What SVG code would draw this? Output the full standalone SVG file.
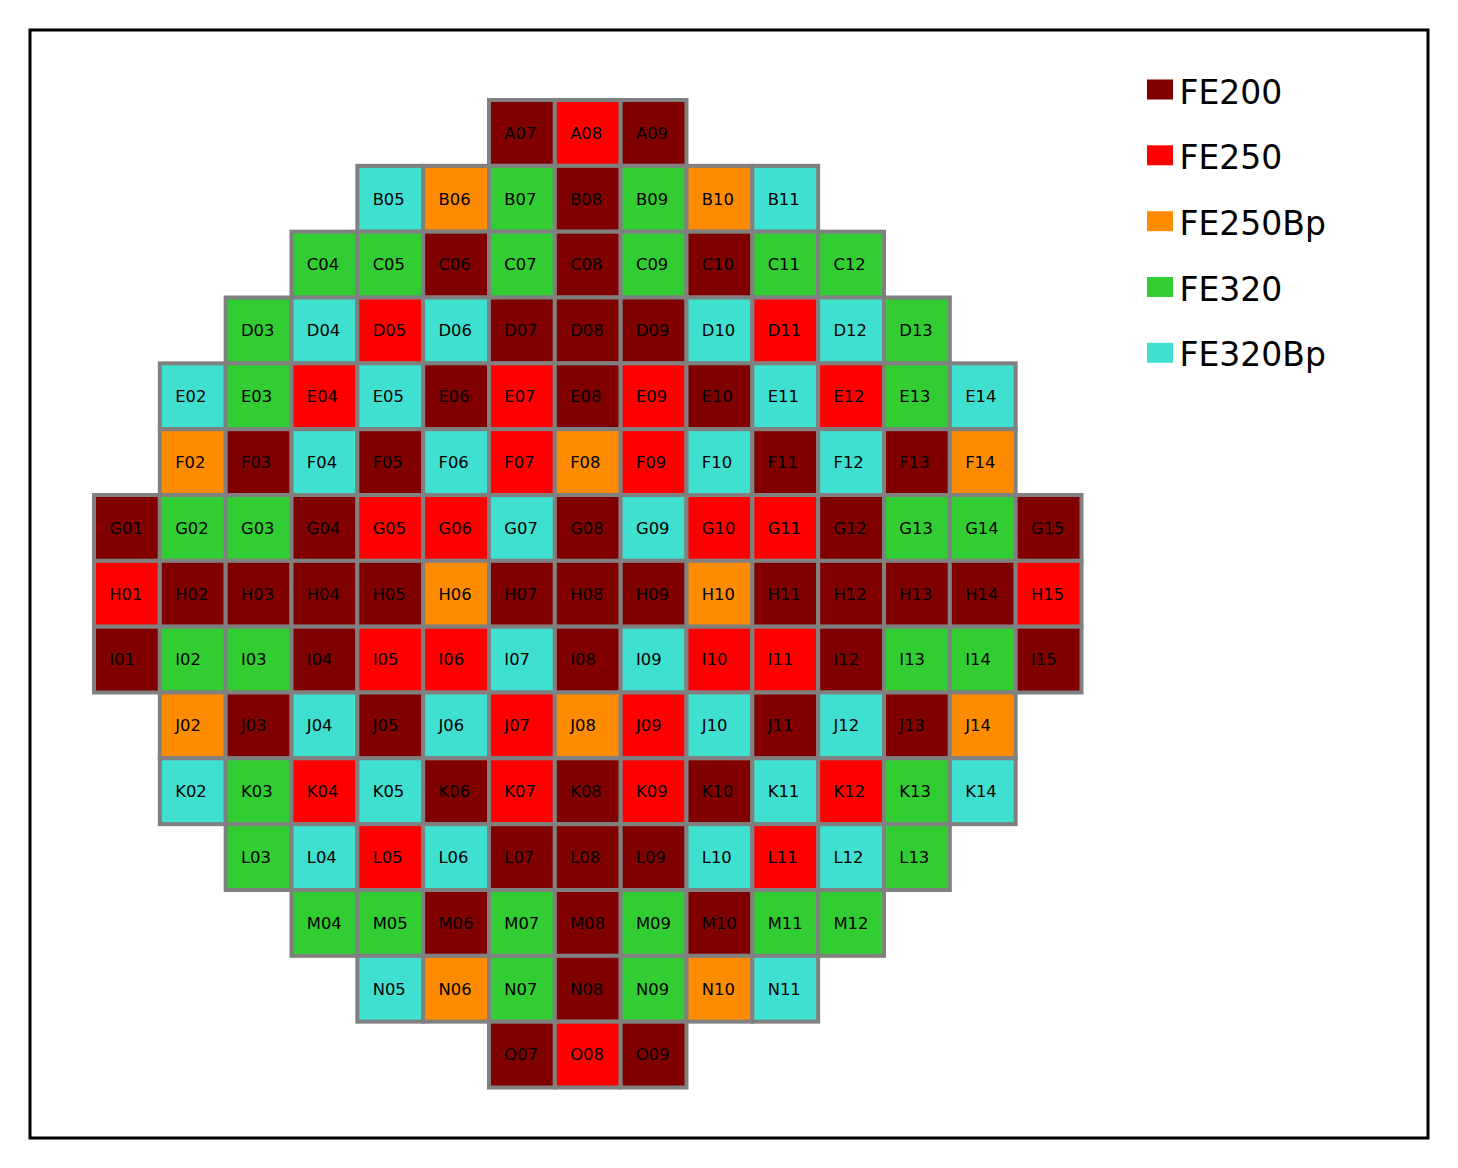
<svg xmlns="http://www.w3.org/2000/svg" width="1458" height="1168" viewBox="0 0 1458 1168">
<style>
.c rect{stroke:#808080;stroke-width:4}
.c text{font-family:"DejaVu Sans",sans-serif;font-size:16.4px;fill:#000}
.d{fill:#800000}.r{fill:#ff0000}.o{fill:#ff8c00}.g{fill:#32cd32}.t{fill:#40e0d0}
.lg text{font-family:"DejaVu Sans",sans-serif;font-size:33px;fill:#000}
</style>
<rect x="0" y="0" width="1458" height="1168" fill="#fff"/>
<rect x="30" y="30" width="1398" height="1108" fill="none" stroke="#000" stroke-width="3"/>
<g id="connectors"/>
<g class="c">
<g id="A07" transform="translate(489,100)"><rect class="d" width="65.83" height="65.83"/><text x="15.3" y="38.7">A07</text></g>
<g id="A08" transform="translate(554.83,100)"><rect class="r" width="65.83" height="65.83"/><text x="15.3" y="38.7">A08</text></g>
<g id="A09" transform="translate(620.67,100)"><rect class="d" width="65.83" height="65.83"/><text x="15.3" y="38.7">A09</text></g>

<g id="B05" transform="translate(357.33,165.83)"><rect class="t" width="65.83" height="65.83"/><text x="15.3" y="38.7">B05</text></g>
<g id="B06" transform="translate(423.17,165.83)"><rect class="o" width="65.83" height="65.83"/><text x="15.3" y="38.7">B06</text></g>
<g id="B07" transform="translate(489,165.83)"><rect class="g" width="65.83" height="65.83"/><text x="15.3" y="38.7">B07</text></g>
<g id="B08" transform="translate(554.83,165.83)"><rect class="d" width="65.83" height="65.83"/><text x="15.3" y="38.7">B08</text></g>
<g id="B09" transform="translate(620.67,165.83)"><rect class="g" width="65.83" height="65.83"/><text x="15.3" y="38.7">B09</text></g>
<g id="B10" transform="translate(686.5,165.83)"><rect class="o" width="65.83" height="65.83"/><text x="15.3" y="38.7">B10</text></g>
<g id="B11" transform="translate(752.33,165.83)"><rect class="t" width="65.83" height="65.83"/><text x="15.3" y="38.7">B11</text></g>

<g id="C04" transform="translate(291.5,231.67)"><rect class="g" width="65.83" height="65.83"/><text x="15.3" y="38.7">C04</text></g>
<g id="C05" transform="translate(357.33,231.67)"><rect class="g" width="65.83" height="65.83"/><text x="15.3" y="38.7">C05</text></g>
<g id="C06" transform="translate(423.17,231.67)"><rect class="d" width="65.83" height="65.83"/><text x="15.3" y="38.7">C06</text></g>
<g id="C07" transform="translate(489,231.67)"><rect class="g" width="65.83" height="65.83"/><text x="15.3" y="38.7">C07</text></g>
<g id="C08" transform="translate(554.83,231.67)"><rect class="d" width="65.83" height="65.83"/><text x="15.3" y="38.7">C08</text></g>
<g id="C09" transform="translate(620.67,231.67)"><rect class="g" width="65.83" height="65.83"/><text x="15.3" y="38.7">C09</text></g>
<g id="C10" transform="translate(686.5,231.67)"><rect class="d" width="65.83" height="65.83"/><text x="15.3" y="38.7">C10</text></g>
<g id="C11" transform="translate(752.33,231.67)"><rect class="g" width="65.83" height="65.83"/><text x="15.3" y="38.7">C11</text></g>
<g id="C12" transform="translate(818.17,231.67)"><rect class="g" width="65.83" height="65.83"/><text x="15.3" y="38.7">C12</text></g>

<g id="D03" transform="translate(225.67,297.5)"><rect class="g" width="65.83" height="65.83"/><text x="15.3" y="38.7">D03</text></g>
<g id="D04" transform="translate(291.5,297.5)"><rect class="t" width="65.83" height="65.83"/><text x="15.3" y="38.7">D04</text></g>
<g id="D05" transform="translate(357.33,297.5)"><rect class="r" width="65.83" height="65.83"/><text x="15.3" y="38.7">D05</text></g>
<g id="D06" transform="translate(423.17,297.5)"><rect class="t" width="65.83" height="65.83"/><text x="15.3" y="38.7">D06</text></g>
<g id="D07" transform="translate(489,297.5)"><rect class="d" width="65.83" height="65.83"/><text x="15.3" y="38.7">D07</text></g>
<g id="D08" transform="translate(554.83,297.5)"><rect class="d" width="65.83" height="65.83"/><text x="15.3" y="38.7">D08</text></g>
<g id="D09" transform="translate(620.67,297.5)"><rect class="d" width="65.83" height="65.83"/><text x="15.3" y="38.7">D09</text></g>
<g id="D10" transform="translate(686.5,297.5)"><rect class="t" width="65.83" height="65.83"/><text x="15.3" y="38.7">D10</text></g>
<g id="D11" transform="translate(752.33,297.5)"><rect class="r" width="65.83" height="65.83"/><text x="15.3" y="38.7">D11</text></g>
<g id="D12" transform="translate(818.17,297.5)"><rect class="t" width="65.83" height="65.83"/><text x="15.3" y="38.7">D12</text></g>
<g id="D13" transform="translate(884,297.5)"><rect class="g" width="65.83" height="65.83"/><text x="15.3" y="38.7">D13</text></g>

<g id="E02" transform="translate(159.83,363.33)"><rect class="t" width="65.83" height="65.83"/><text x="15.3" y="38.7">E02</text></g>
<g id="E03" transform="translate(225.67,363.33)"><rect class="g" width="65.83" height="65.83"/><text x="15.3" y="38.7">E03</text></g>
<g id="E04" transform="translate(291.5,363.33)"><rect class="r" width="65.83" height="65.83"/><text x="15.3" y="38.7">E04</text></g>
<g id="E05" transform="translate(357.33,363.33)"><rect class="t" width="65.83" height="65.83"/><text x="15.3" y="38.7">E05</text></g>
<g id="E06" transform="translate(423.17,363.33)"><rect class="d" width="65.83" height="65.83"/><text x="15.3" y="38.7">E06</text></g>
<g id="E07" transform="translate(489,363.33)"><rect class="r" width="65.83" height="65.83"/><text x="15.3" y="38.7">E07</text></g>
<g id="E08" transform="translate(554.83,363.33)"><rect class="d" width="65.83" height="65.83"/><text x="15.3" y="38.7">E08</text></g>
<g id="E09" transform="translate(620.67,363.33)"><rect class="r" width="65.83" height="65.83"/><text x="15.3" y="38.7">E09</text></g>
<g id="E10" transform="translate(686.5,363.33)"><rect class="d" width="65.83" height="65.83"/><text x="15.3" y="38.7">E10</text></g>
<g id="E11" transform="translate(752.33,363.33)"><rect class="t" width="65.83" height="65.83"/><text x="15.3" y="38.7">E11</text></g>
<g id="E12" transform="translate(818.17,363.33)"><rect class="r" width="65.83" height="65.83"/><text x="15.3" y="38.7">E12</text></g>
<g id="E13" transform="translate(884,363.33)"><rect class="g" width="65.83" height="65.83"/><text x="15.3" y="38.7">E13</text></g>
<g id="E14" transform="translate(949.83,363.33)"><rect class="t" width="65.83" height="65.83"/><text x="15.3" y="38.7">E14</text></g>

<g id="F02" transform="translate(159.83,429.17)"><rect class="o" width="65.83" height="65.83"/><text x="15.3" y="38.7">F02</text></g>
<g id="F03" transform="translate(225.67,429.17)"><rect class="d" width="65.83" height="65.83"/><text x="15.3" y="38.7">F03</text></g>
<g id="F04" transform="translate(291.5,429.17)"><rect class="t" width="65.83" height="65.83"/><text x="15.3" y="38.7">F04</text></g>
<g id="F05" transform="translate(357.33,429.17)"><rect class="d" width="65.83" height="65.83"/><text x="15.3" y="38.7">F05</text></g>
<g id="F06" transform="translate(423.17,429.17)"><rect class="t" width="65.83" height="65.83"/><text x="15.3" y="38.7">F06</text></g>
<g id="F07" transform="translate(489,429.17)"><rect class="r" width="65.83" height="65.83"/><text x="15.3" y="38.7">F07</text></g>
<g id="F08" transform="translate(554.83,429.17)"><rect class="o" width="65.83" height="65.83"/><text x="15.3" y="38.7">F08</text></g>
<g id="F09" transform="translate(620.67,429.17)"><rect class="r" width="65.83" height="65.83"/><text x="15.3" y="38.7">F09</text></g>
<g id="F10" transform="translate(686.5,429.17)"><rect class="t" width="65.83" height="65.83"/><text x="15.3" y="38.7">F10</text></g>
<g id="F11" transform="translate(752.33,429.17)"><rect class="d" width="65.83" height="65.83"/><text x="15.3" y="38.7">F11</text></g>
<g id="F12" transform="translate(818.17,429.17)"><rect class="t" width="65.83" height="65.83"/><text x="15.3" y="38.7">F12</text></g>
<g id="F13" transform="translate(884,429.17)"><rect class="d" width="65.83" height="65.83"/><text x="15.3" y="38.7">F13</text></g>
<g id="F14" transform="translate(949.83,429.17)"><rect class="o" width="65.83" height="65.83"/><text x="15.3" y="38.7">F14</text></g>

<g id="G01" transform="translate(94,495)"><rect class="d" width="65.83" height="65.83"/><text x="15.3" y="38.7">G01</text></g>
<g id="G02" transform="translate(159.83,495)"><rect class="g" width="65.83" height="65.83"/><text x="15.3" y="38.7">G02</text></g>
<g id="G03" transform="translate(225.67,495)"><rect class="g" width="65.83" height="65.83"/><text x="15.3" y="38.7">G03</text></g>
<g id="G04" transform="translate(291.5,495)"><rect class="d" width="65.83" height="65.83"/><text x="15.3" y="38.7">G04</text></g>
<g id="G05" transform="translate(357.33,495)"><rect class="r" width="65.83" height="65.83"/><text x="15.3" y="38.7">G05</text></g>
<g id="G06" transform="translate(423.17,495)"><rect class="r" width="65.83" height="65.83"/><text x="15.3" y="38.7">G06</text></g>
<g id="G07" transform="translate(489,495)"><rect class="t" width="65.83" height="65.83"/><text x="15.3" y="38.7">G07</text></g>
<g id="G08" transform="translate(554.83,495)"><rect class="d" width="65.83" height="65.83"/><text x="15.3" y="38.7">G08</text></g>
<g id="G09" transform="translate(620.67,495)"><rect class="t" width="65.83" height="65.83"/><text x="15.3" y="38.7">G09</text></g>
<g id="G10" transform="translate(686.5,495)"><rect class="r" width="65.83" height="65.83"/><text x="15.3" y="38.7">G10</text></g>
<g id="G11" transform="translate(752.33,495)"><rect class="r" width="65.83" height="65.83"/><text x="15.3" y="38.7">G11</text></g>
<g id="G12" transform="translate(818.17,495)"><rect class="d" width="65.83" height="65.83"/><text x="15.3" y="38.7">G12</text></g>
<g id="G13" transform="translate(884,495)"><rect class="g" width="65.83" height="65.83"/><text x="15.3" y="38.7">G13</text></g>
<g id="G14" transform="translate(949.83,495)"><rect class="g" width="65.83" height="65.83"/><text x="15.3" y="38.7">G14</text></g>
<g id="G15" transform="translate(1015.67,495)"><rect class="d" width="65.83" height="65.83"/><text x="15.3" y="38.7">G15</text></g>

<g id="H01" transform="translate(94,560.83)"><rect class="r" width="65.83" height="65.83"/><text x="15.3" y="38.7">H01</text></g>
<g id="H02" transform="translate(159.83,560.83)"><rect class="d" width="65.83" height="65.83"/><text x="15.3" y="38.7">H02</text></g>
<g id="H03" transform="translate(225.67,560.83)"><rect class="d" width="65.83" height="65.83"/><text x="15.3" y="38.7">H03</text></g>
<g id="H04" transform="translate(291.5,560.83)"><rect class="d" width="65.83" height="65.83"/><text x="15.3" y="38.7">H04</text></g>
<g id="H05" transform="translate(357.33,560.83)"><rect class="d" width="65.83" height="65.83"/><text x="15.3" y="38.7">H05</text></g>
<g id="H06" transform="translate(423.17,560.83)"><rect class="o" width="65.83" height="65.83"/><text x="15.3" y="38.7">H06</text></g>
<g id="H07" transform="translate(489,560.83)"><rect class="d" width="65.83" height="65.83"/><text x="15.3" y="38.7">H07</text></g>
<g id="H08" transform="translate(554.83,560.83)"><rect class="d" width="65.83" height="65.83"/><text x="15.3" y="38.7">H08</text></g>
<g id="H09" transform="translate(620.67,560.83)"><rect class="d" width="65.83" height="65.83"/><text x="15.3" y="38.7">H09</text></g>
<g id="H10" transform="translate(686.5,560.83)"><rect class="o" width="65.83" height="65.83"/><text x="15.3" y="38.7">H10</text></g>
<g id="H11" transform="translate(752.33,560.83)"><rect class="d" width="65.83" height="65.83"/><text x="15.3" y="38.7">H11</text></g>
<g id="H12" transform="translate(818.17,560.83)"><rect class="d" width="65.83" height="65.83"/><text x="15.3" y="38.7">H12</text></g>
<g id="H13" transform="translate(884,560.83)"><rect class="d" width="65.83" height="65.83"/><text x="15.3" y="38.7">H13</text></g>
<g id="H14" transform="translate(949.83,560.83)"><rect class="d" width="65.83" height="65.83"/><text x="15.3" y="38.7">H14</text></g>
<g id="H15" transform="translate(1015.67,560.83)"><rect class="r" width="65.83" height="65.83"/><text x="15.3" y="38.7">H15</text></g>

<g id="I01" transform="translate(94,626.67)"><rect class="d" width="65.83" height="65.83"/><text x="15.3" y="38.7">I01</text></g>
<g id="I02" transform="translate(159.83,626.67)"><rect class="g" width="65.83" height="65.83"/><text x="15.3" y="38.7">I02</text></g>
<g id="I03" transform="translate(225.67,626.67)"><rect class="g" width="65.83" height="65.83"/><text x="15.3" y="38.7">I03</text></g>
<g id="I04" transform="translate(291.5,626.67)"><rect class="d" width="65.83" height="65.83"/><text x="15.3" y="38.7">I04</text></g>
<g id="I05" transform="translate(357.33,626.67)"><rect class="r" width="65.83" height="65.83"/><text x="15.3" y="38.7">I05</text></g>
<g id="I06" transform="translate(423.17,626.67)"><rect class="r" width="65.83" height="65.83"/><text x="15.3" y="38.7">I06</text></g>
<g id="I07" transform="translate(489,626.67)"><rect class="t" width="65.83" height="65.83"/><text x="15.3" y="38.7">I07</text></g>
<g id="I08" transform="translate(554.83,626.67)"><rect class="d" width="65.83" height="65.83"/><text x="15.3" y="38.7">I08</text></g>
<g id="I09" transform="translate(620.67,626.67)"><rect class="t" width="65.83" height="65.83"/><text x="15.3" y="38.7">I09</text></g>
<g id="I10" transform="translate(686.5,626.67)"><rect class="r" width="65.83" height="65.83"/><text x="15.3" y="38.7">I10</text></g>
<g id="I11" transform="translate(752.33,626.67)"><rect class="r" width="65.83" height="65.83"/><text x="15.3" y="38.7">I11</text></g>
<g id="I12" transform="translate(818.17,626.67)"><rect class="d" width="65.83" height="65.83"/><text x="15.3" y="38.7">I12</text></g>
<g id="I13" transform="translate(884,626.67)"><rect class="g" width="65.83" height="65.83"/><text x="15.3" y="38.7">I13</text></g>
<g id="I14" transform="translate(949.83,626.67)"><rect class="g" width="65.83" height="65.83"/><text x="15.3" y="38.7">I14</text></g>
<g id="I15" transform="translate(1015.67,626.67)"><rect class="d" width="65.83" height="65.83"/><text x="15.3" y="38.7">I15</text></g>

<g id="J02" transform="translate(159.83,692.5)"><rect class="o" width="65.83" height="65.83"/><text x="15.3" y="38.7">J02</text></g>
<g id="J03" transform="translate(225.67,692.5)"><rect class="d" width="65.83" height="65.83"/><text x="15.3" y="38.7">J03</text></g>
<g id="J04" transform="translate(291.5,692.5)"><rect class="t" width="65.83" height="65.83"/><text x="15.3" y="38.7">J04</text></g>
<g id="J05" transform="translate(357.33,692.5)"><rect class="d" width="65.83" height="65.83"/><text x="15.3" y="38.7">J05</text></g>
<g id="J06" transform="translate(423.17,692.5)"><rect class="t" width="65.83" height="65.83"/><text x="15.3" y="38.7">J06</text></g>
<g id="J07" transform="translate(489,692.5)"><rect class="r" width="65.83" height="65.83"/><text x="15.3" y="38.7">J07</text></g>
<g id="J08" transform="translate(554.83,692.5)"><rect class="o" width="65.83" height="65.83"/><text x="15.3" y="38.7">J08</text></g>
<g id="J09" transform="translate(620.67,692.5)"><rect class="r" width="65.83" height="65.83"/><text x="15.3" y="38.7">J09</text></g>
<g id="J10" transform="translate(686.5,692.5)"><rect class="t" width="65.83" height="65.83"/><text x="15.3" y="38.7">J10</text></g>
<g id="J11" transform="translate(752.33,692.5)"><rect class="d" width="65.83" height="65.83"/><text x="15.3" y="38.7">J11</text></g>
<g id="J12" transform="translate(818.17,692.5)"><rect class="t" width="65.83" height="65.83"/><text x="15.3" y="38.7">J12</text></g>
<g id="J13" transform="translate(884,692.5)"><rect class="d" width="65.83" height="65.83"/><text x="15.3" y="38.7">J13</text></g>
<g id="J14" transform="translate(949.83,692.5)"><rect class="o" width="65.83" height="65.83"/><text x="15.3" y="38.7">J14</text></g>

<g id="K02" transform="translate(159.83,758.33)"><rect class="t" width="65.83" height="65.83"/><text x="15.3" y="38.7">K02</text></g>
<g id="K03" transform="translate(225.67,758.33)"><rect class="g" width="65.83" height="65.83"/><text x="15.3" y="38.7">K03</text></g>
<g id="K04" transform="translate(291.5,758.33)"><rect class="r" width="65.83" height="65.83"/><text x="15.3" y="38.7">K04</text></g>
<g id="K05" transform="translate(357.33,758.33)"><rect class="t" width="65.83" height="65.83"/><text x="15.3" y="38.7">K05</text></g>
<g id="K06" transform="translate(423.17,758.33)"><rect class="d" width="65.83" height="65.83"/><text x="15.3" y="38.7">K06</text></g>
<g id="K07" transform="translate(489,758.33)"><rect class="r" width="65.83" height="65.83"/><text x="15.3" y="38.7">K07</text></g>
<g id="K08" transform="translate(554.83,758.33)"><rect class="d" width="65.83" height="65.83"/><text x="15.3" y="38.7">K08</text></g>
<g id="K09" transform="translate(620.67,758.33)"><rect class="r" width="65.83" height="65.83"/><text x="15.3" y="38.7">K09</text></g>
<g id="K10" transform="translate(686.5,758.33)"><rect class="d" width="65.83" height="65.83"/><text x="15.3" y="38.7">K10</text></g>
<g id="K11" transform="translate(752.33,758.33)"><rect class="t" width="65.83" height="65.83"/><text x="15.3" y="38.7">K11</text></g>
<g id="K12" transform="translate(818.17,758.33)"><rect class="r" width="65.83" height="65.83"/><text x="15.3" y="38.7">K12</text></g>
<g id="K13" transform="translate(884,758.33)"><rect class="g" width="65.83" height="65.83"/><text x="15.3" y="38.7">K13</text></g>
<g id="K14" transform="translate(949.83,758.33)"><rect class="t" width="65.83" height="65.83"/><text x="15.3" y="38.7">K14</text></g>

<g id="L03" transform="translate(225.67,824.17)"><rect class="g" width="65.83" height="65.83"/><text x="15.3" y="38.7">L03</text></g>
<g id="L04" transform="translate(291.5,824.17)"><rect class="t" width="65.83" height="65.83"/><text x="15.3" y="38.7">L04</text></g>
<g id="L05" transform="translate(357.33,824.17)"><rect class="r" width="65.83" height="65.83"/><text x="15.3" y="38.7">L05</text></g>
<g id="L06" transform="translate(423.17,824.17)"><rect class="t" width="65.83" height="65.83"/><text x="15.3" y="38.7">L06</text></g>
<g id="L07" transform="translate(489,824.17)"><rect class="d" width="65.83" height="65.83"/><text x="15.3" y="38.7">L07</text></g>
<g id="L08" transform="translate(554.83,824.17)"><rect class="d" width="65.83" height="65.83"/><text x="15.3" y="38.7">L08</text></g>
<g id="L09" transform="translate(620.67,824.17)"><rect class="d" width="65.83" height="65.83"/><text x="15.3" y="38.7">L09</text></g>
<g id="L10" transform="translate(686.5,824.17)"><rect class="t" width="65.83" height="65.83"/><text x="15.3" y="38.7">L10</text></g>
<g id="L11" transform="translate(752.33,824.17)"><rect class="r" width="65.83" height="65.83"/><text x="15.3" y="38.7">L11</text></g>
<g id="L12" transform="translate(818.17,824.17)"><rect class="t" width="65.83" height="65.83"/><text x="15.3" y="38.7">L12</text></g>
<g id="L13" transform="translate(884,824.17)"><rect class="g" width="65.83" height="65.83"/><text x="15.3" y="38.7">L13</text></g>

<g id="M04" transform="translate(291.5,890)"><rect class="g" width="65.83" height="65.83"/><text x="15.3" y="38.7">M04</text></g>
<g id="M05" transform="translate(357.33,890)"><rect class="g" width="65.83" height="65.83"/><text x="15.3" y="38.7">M05</text></g>
<g id="M06" transform="translate(423.17,890)"><rect class="d" width="65.83" height="65.83"/><text x="15.3" y="38.7">M06</text></g>
<g id="M07" transform="translate(489,890)"><rect class="g" width="65.83" height="65.83"/><text x="15.3" y="38.7">M07</text></g>
<g id="M08" transform="translate(554.83,890)"><rect class="d" width="65.83" height="65.83"/><text x="15.3" y="38.7">M08</text></g>
<g id="M09" transform="translate(620.67,890)"><rect class="g" width="65.83" height="65.83"/><text x="15.3" y="38.7">M09</text></g>
<g id="M10" transform="translate(686.5,890)"><rect class="d" width="65.83" height="65.83"/><text x="15.3" y="38.7">M10</text></g>
<g id="M11" transform="translate(752.33,890)"><rect class="g" width="65.83" height="65.83"/><text x="15.3" y="38.7">M11</text></g>
<g id="M12" transform="translate(818.17,890)"><rect class="g" width="65.83" height="65.83"/><text x="15.3" y="38.7">M12</text></g>

<g id="N05" transform="translate(357.33,955.83)"><rect class="t" width="65.83" height="65.83"/><text x="15.3" y="38.7">N05</text></g>
<g id="N06" transform="translate(423.17,955.83)"><rect class="o" width="65.83" height="65.83"/><text x="15.3" y="38.7">N06</text></g>
<g id="N07" transform="translate(489,955.83)"><rect class="g" width="65.83" height="65.83"/><text x="15.3" y="38.7">N07</text></g>
<g id="N08" transform="translate(554.83,955.83)"><rect class="d" width="65.83" height="65.83"/><text x="15.3" y="38.7">N08</text></g>
<g id="N09" transform="translate(620.67,955.83)"><rect class="g" width="65.83" height="65.83"/><text x="15.3" y="38.7">N09</text></g>
<g id="N10" transform="translate(686.5,955.83)"><rect class="o" width="65.83" height="65.83"/><text x="15.3" y="38.7">N10</text></g>
<g id="N11" transform="translate(752.33,955.83)"><rect class="t" width="65.83" height="65.83"/><text x="15.3" y="38.7">N11</text></g>

<g id="O07" transform="translate(489,1021.67)"><rect class="d" width="65.83" height="65.83"/><text x="15.3" y="38.7">O07</text></g>
<g id="O08" transform="translate(554.83,1021.67)"><rect class="r" width="65.83" height="65.83"/><text x="15.3" y="38.7">O08</text></g>
<g id="O09" transform="translate(620.67,1021.67)"><rect class="d" width="65.83" height="65.83"/><text x="15.3" y="38.7">O09</text></g>
</g>
<g id="legend" class="lg">
<rect class="d" x="1147" y="79.5" width="26" height="20"/><text x="1179.5" y="103.5">FE200</text>
<rect class="r" x="1147" y="145.3" width="26" height="20"/><text x="1179.5" y="169.2">FE250</text>
<rect class="o" x="1147" y="211.2" width="26" height="20"/><text x="1179.5" y="234.9">FE250Bp</text>
<rect class="g" x="1147" y="277" width="26" height="20"/><text x="1179.5" y="300.6">FE320</text>
<rect class="t" x="1147" y="342.8" width="26" height="20"/><text x="1179.5" y="366.2">FE320Bp</text>
</g>
</svg>
